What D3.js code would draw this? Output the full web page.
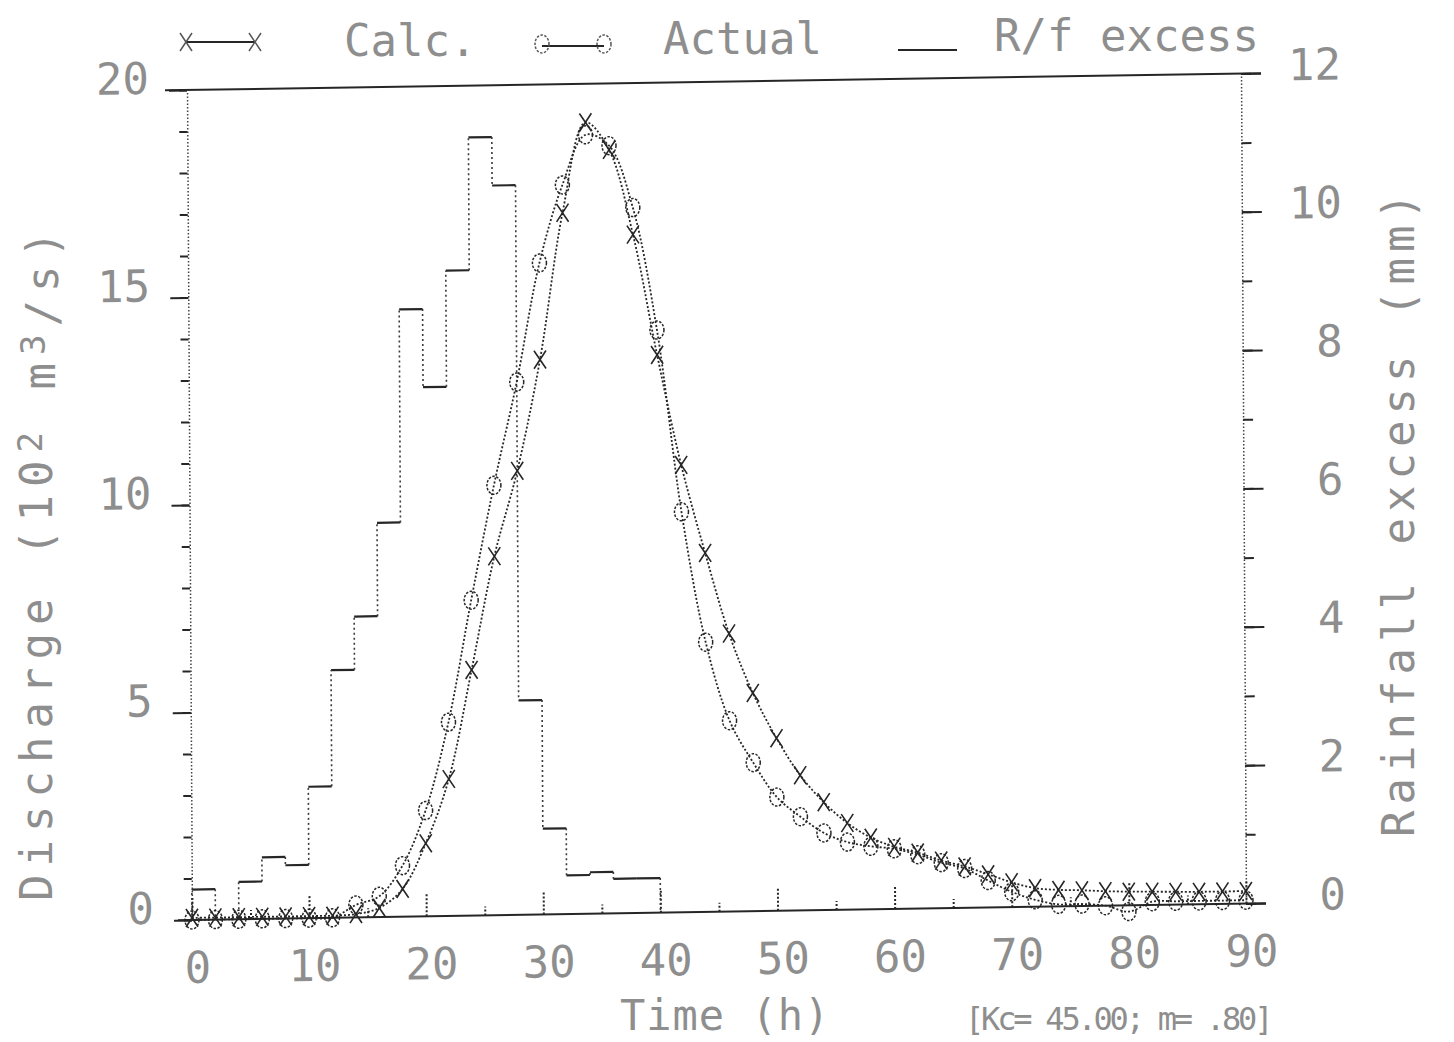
<!DOCTYPE html>
<html lang="en">
<head>
<meta charset="utf-8">
<title>Calculated and actual discharge</title>
<script src="https://cdn.jsdelivr.net/npm/d3@7/dist/d3.min.js"></script>
<style>
  body { margin: 0; background: #fff; }
  svg text { font-family: "DejaVu Sans Mono", monospace; fill: #8e8e8e; }
</style>
</head>
<body>
<script>
// time of each ordinate (h)
var hours = [0, 2, 4, 6, 8, 10, 12, 14, 16, 18, 20, 22, 24, 26, 28, 30, 32, 34, 36, 38,
             40, 42, 44, 46, 48, 50, 52, 54, 56, 58, 60, 62, 64, 66, 68, 70, 72, 74, 76, 78,
             80, 82, 84, 86, 88, 90];
// discharge (10^2 m3/s)
var calc = [0.05, 0.05, 0.05, 0.05, 0.05, 0.05, 0.05, 0.08, 0.22, 0.67, 1.76, 3.3, 5.92, 8.65, 10.7, 13.37, 16.9, 19.07, 18.4, 16.35,
            13.44, 10.78, 8.65, 6.7, 5.26, 4.16, 3.26, 2.6, 2.09, 1.73, 1.5, 1.35, 1.15, 1.0, 0.8, 0.6, 0.45, 0.4, 0.38, 0.35,
            0.33, 0.32, 0.31, 0.3, 0.3, 0.3];
var actual = [0.0, 0.0, 0.0, 0.0, 0.0, 0.0, 0.0, 0.3, 0.5, 1.23, 2.55, 4.67, 7.6, 10.36, 12.84, 15.7, 17.57, 18.77, 18.5, 17.0,
              14.04, 9.65, 6.5, 4.6, 3.58, 2.74, 2.26, 1.86, 1.63, 1.52, 1.45, 1.3, 1.1, 0.95, 0.65, 0.37, 0.17, 0.05, 0.05, 0.0,
              -0.15, 0.08, 0.08, 0.08, 0.08, 0.08];
// rainfall excess (mm) in 2 h blocks
var rainStart = [0, 2, 4, 6, 8, 10, 12, 14, 16, 18, 20, 22, 24, 26, 28, 30, 32, 34, 36, 38];
var rainExcess = [0.44, 0, 0.54, 0.89, 0.77, 1.9, 3.58, 4.35, 5.7, 8.78, 7.65, 9.33, 11.25, 10.55, 3.1, 1.24, 0.56, 0.6, 0.5, 0.5];

var leftTicks = [0, 5, 10, 15, 20];
var rightTicks = [0, 2, 4, 6, 8, 10, 12];
var timeTicks = [0, 10, 20, 30, 40, 50, 60, 70, 80, 90];
var timeMinor = [5, 15, 25, 35, 45, 55, 65, 75, 85];

var w = 1454, h = 1042;
var ink = "#262626";

var svg = d3.select("body").append("svg")
    .attr("width", w)
    .attr("height", h);
svg.append("rect").attr("width", w).attr("height", h).attr("fill", "#fff");

// the plotter output sits slightly skewed on the page
var g = svg.append("g")
    .attr("transform", "translate(190,920) matrix(1,-0.0156,0.006,1,0,0) translate(-190,-920)");

var x = d3.scaleLinear().domain([0, 90]).range([192, 1246]);
var y = d3.scaleLinear().domain([0, 20]).range([920, 90]);
var yR = d3.scaleLinear().domain([0, 12]).range([920, 90]);

function styleAxis(sel, dotted) {
    sel.attr("font-family", null).attr("font-size", null);
    sel.select(".domain").attr("stroke", "#444").attr("stroke-width", 1.5)
        .attr("stroke-dasharray", "1.5,2");
    sel.selectAll(".tick line").attr("stroke", ink).attr("stroke-width", 2)
        .attr("stroke-dasharray", dotted ? "2,2" : null);
    sel.selectAll(".tick text").attr("fill", null).style("font-size", "44px");
}

// frame lines top and bottom
g.append("line").attr("x1", 170).attr("x2", 1266).attr("y1", y(20)).attr("y2", y(20))
    .attr("stroke", ink).attr("stroke-width", 2);
g.append("line").attr("x1", 178).attr("x2", 1266).attr("y1", y(0)).attr("y2", y(0))
    .attr("stroke", ink).attr("stroke-width", 2);

// left axis
var gl = g.append("g").attr("transform", "translate(" + x(0) + ",0)")
    .call(d3.axisLeft(y).tickValues(d3.range(0, 21)).tickSize(8).tickSizeOuter(0).tickFormat(""));
styleAxis(gl, false);
var gl2 = g.append("g").attr("transform", "translate(" + x(0) + ",0)")
    .call(d3.axisLeft(y).tickValues(leftTicks).tickSize(18).tickSizeOuter(0).tickFormat(d3.format("d")));
styleAxis(gl2, false);
gl2.select(".domain").remove();
gl2.selectAll(".tick text").attr("x", -38).attr("y", -13).attr("dy", "0.36em");

// right axis (rainfall)
var gr = g.append("g").attr("transform", "translate(" + x(90) + ",0)")
    .call(d3.axisRight(yR).tickValues(d3.range(0, 13)).tickSize(10).tickSizeOuter(0).tickFormat(""));
styleAxis(gr, false);
var gr2 = g.append("g").attr("transform", "translate(" + x(90) + ",0)")
    .call(d3.axisRight(yR).tickValues(rightTicks).tickSize(20).tickSizeOuter(0).tickFormat(d3.format("d")));
styleAxis(gr2, false);
gr2.select(".domain").remove();
gr2.selectAll(".tick text").attr("text-anchor", "end").attr("x", 100).attr("y", -9).attr("dy", "0.36em");

// time axis, ticks point up into the plot
var gb = g.append("g").attr("transform", "translate(0," + y(0) + ")")
    .call(d3.axisBottom(x).tickValues(timeMinor).tickSize(-9).tickSizeOuter(0).tickFormat(""));
styleAxis(gb, true);
gb.select(".domain").remove();
var gb2 = g.append("g").attr("transform", "translate(0," + y(0) + ")")
    .call(d3.axisBottom(x).tickValues(timeTicks).tickSize(-22).tickSizeOuter(0).tickFormat(d3.format("d")));
styleAxis(gb2, true);
gb2.select(".domain").remove();
gb2.selectAll(".tick text").attr("x", 5).attr("y", 47).attr("dy", "0.36em");

// rainfall excess histogram
var blocks = rainStart.map(function(t, i) {
    return { t0: t, t1: t + 2, v: rainExcess[i], prev: i ? rainExcess[i - 1] : 0 };
});
g.selectAll(".rf-h").data(blocks.filter(function(d) { return d.v > 0; }))
    .enter().append("line")
    .attr("x1", function(d) { return x(d.t0); })
    .attr("x2", function(d) { return x(d.t1); })
    .attr("y1", function(d) { return yR(d.v); })
    .attr("y2", function(d) { return yR(d.v); })
    .attr("stroke", ink).attr("stroke-width", 2.2);
var rises = blocks.map(function(d) { return { t: d.t0, a: d.prev, b: d.v }; });
rises.push({ t: blocks[blocks.length - 1].t1, a: blocks[blocks.length - 1].v, b: 0 });
g.selectAll(".rf-v").data(rises)
    .enter().append("line")
    .attr("x1", function(d) { return x(d.t); })
    .attr("x2", function(d) { return x(d.t); })
    .attr("y1", function(d) { return yR(d.a); })
    .attr("y2", function(d) { return yR(d.b); })
    .attr("stroke", "#3a3a3a").attr("stroke-width", 1.6).attr("stroke-dasharray", "2,3");

// hydrographs
var line = d3.line()
    .x(function(d, i) { return x(hours[i]); })
    .y(function(d) { return y(d); })
    .curve(d3.curveCatmullRom.alpha(0.5));

[calc, actual].forEach(function(series) {
    g.append("path").datum(series)
        .attr("d", line)
        .attr("fill", "none")
        .attr("stroke", ink)
        .attr("stroke-width", 1.8)
        .attr("stroke-dasharray", "2,2");
});

g.selectAll(".mk-x").data(calc).enter().append("path")
    .attr("transform", function(d, i) { return "translate(" + x(hours[i]) + "," + y(d) + ")"; })
    .attr("d", "M-6,-9L6,9M6,-9L-6,9")
    .attr("fill", "none").attr("stroke", ink).attr("stroke-width", 1.6);

g.selectAll(".mk-o").data(actual).enter().append("ellipse")
    .attr("cx", function(d, i) { return x(hours[i]); })
    .attr("cy", function(d) { return y(d); })
    .attr("rx", 7).attr("ry", 9)
    .attr("fill", "none").attr("stroke", ink).attr("stroke-width", 1.5)
    .attr("stroke-dasharray", "2.5,1.5");

// legend
var lg = svg.append("g");
lg.append("line").attr("x1", 186).attr("x2", 255).attr("y1", 42).attr("y2", 42)
    .attr("stroke", ink).attr("stroke-width", 1.8);
[186, 255].forEach(function(px) {
    lg.append("path").attr("transform", "translate(" + px + ",42)")
        .attr("d", "M-6,-9L6,9M6,-9L-6,9")
        .attr("fill", "none").attr("stroke", "#555").attr("stroke-width", 1.5);
});
lg.append("text").attr("x", 344).attr("y", 56).style("font-size", "44px").text("Calc.");
lg.append("line").attr("x1", 542).attr("x2", 604).attr("y1", 46).attr("y2", 46)
    .attr("stroke", ink).attr("stroke-width", 1.8);
[542, 604].forEach(function(px) {
    lg.append("ellipse").attr("cx", px).attr("cy", 44).attr("rx", 7).attr("ry", 9)
        .attr("fill", "none").attr("stroke", "#555").attr("stroke-width", 1.5)
        .attr("stroke-dasharray", "2.5,1.5");
});
lg.append("text").attr("x", 663).attr("y", 54).style("font-size", "44px").text("Actual");
lg.append("line").attr("x1", 898).attr("x2", 957).attr("y1", 50).attr("y2", 50)
    .attr("stroke", ink).attr("stroke-width", 2);
lg.append("text").attr("x", 994).attr("y", 51).style("font-size", "44px").text("R/f excess");

// axis titles
var tl = svg.append("text")
    .attr("transform", "translate(52,562) rotate(-90)")
    .attr("text-anchor", "middle")
    .style("font-size", "44px").style("letter-spacing", "8px");
tl.append("tspan").text("Discharge (10");
tl.append("tspan").attr("dy", "-0.3em").style("font-size", "34px").text("2");
tl.append("tspan").attr("dy", "0.3em").text(" m");
tl.append("tspan").attr("dy", "-0.3em").style("font-size", "34px").text("3");
tl.append("tspan").attr("dy", "0.3em").text("/s)");

svg.append("text")
    .attr("transform", "translate(1414,512) rotate(-90)")
    .attr("text-anchor", "middle")
    .style("font-size", "44px").style("letter-spacing", "6px")
    .text("Rainfall excess (mm)");

svg.append("text").attr("x", 620).attr("y", 1030)
    .style("font-size", "42px").style("letter-spacing", "1px").text("Time (h)");
svg.append("text").attr("x", 965).attr("y", 1030)
    .style("font-size", "32px").style("letter-spacing", "-3.2px")
    .text("[Kc= 45.00; m= .80]");
</script>
</body>
</html>
